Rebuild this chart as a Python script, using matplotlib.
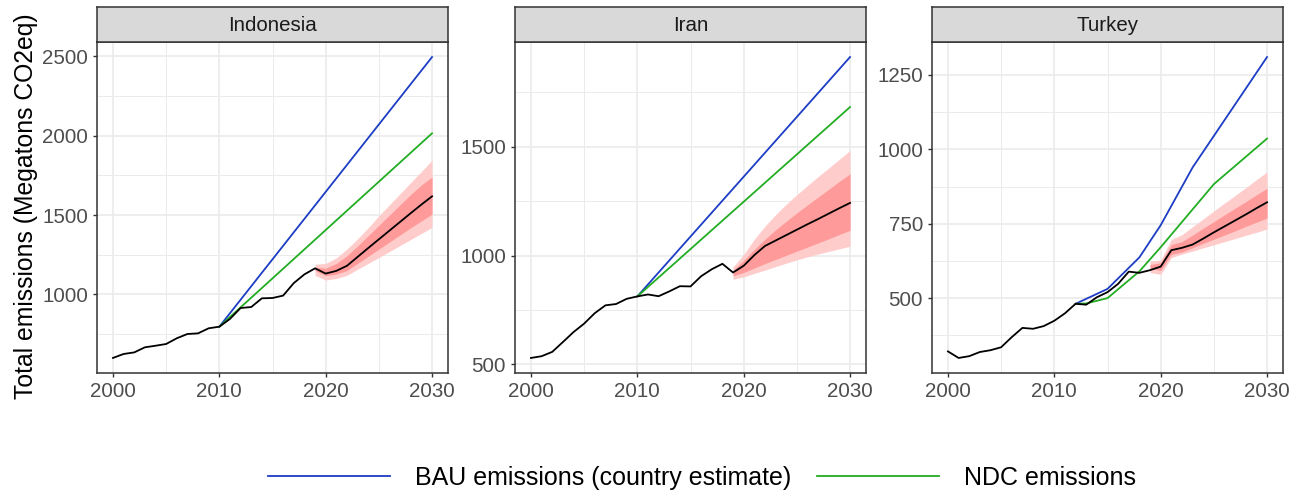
import matplotlib
matplotlib.use('Agg')
import matplotlib.pyplot as plt
from matplotlib.ticker import FixedLocator

plt.rcParams['font.family'] = ['Liberation Sans', 'DejaVu Sans']

COUNTRIES = ['Indonesia', 'Iran', 'Turkey']
HIST_YEARS = list(range(2000, 2019))
PROJ_YEARS = list(range(2019, 2031))

# historical emissions 2000-2018
hist = {
    'Indonesia': [599, 624, 634, 666, 676, 687, 723, 750, 754, 786, 796, 845, 914, 920, 975, 977, 992, 1071, 1126],
    'Iran': [529, 537, 557, 602, 648, 687, 735, 771, 777, 801, 812, 821, 813, 835, 859, 858, 905, 937, 962],
    'Turkey': [321, 299, 305, 319, 325, 335, 369, 400, 397, 406, 424, 449, 481, 478, 503, 520, 548, 589, 585],
}
# projection 2019-2030: median and two uncertainty bands
proj_mid = {
    'Indonesia': [1164, 1131, 1148, 1180, 1236, 1292, 1347, 1402, 1457, 1512, 1566, 1618],
    'Iran': [922, 953, 1002, 1044, 1069, 1094, 1119, 1144, 1168, 1193, 1218, 1242],
    'Turkey': [594, 606, 661, 669, 680, 700, 721, 741, 761, 781, 802, 822],
}
outer_hi = {
    'Indonesia': [1190, 1195, 1230, 1285, 1350, 1420, 1495, 1565, 1635, 1705, 1775, 1845],
    'Iran': [948, 1005, 1075, 1135, 1188, 1236, 1280, 1322, 1363, 1403, 1443, 1483],
    'Turkey': [624, 628, 697, 713, 740, 766, 793, 819, 845, 871, 898, 924],
}
outer_lo = {
    'Indonesia': [1120, 1090, 1100, 1120, 1158, 1195, 1232, 1270, 1308, 1346, 1384, 1422],
    'Iran': [891, 902, 918, 933, 949, 965, 980, 994, 1007, 1019, 1031, 1043],
    'Turkey': [586, 580, 636, 648, 658, 669, 679, 690, 700, 711, 721, 732],
}
inner_hi = {
    'Indonesia': [1172, 1165, 1195, 1243, 1305, 1370, 1435, 1500, 1565, 1630, 1690, 1740],
    'Iran': [933, 978, 1028, 1075, 1118, 1158, 1196, 1233, 1269, 1305, 1341, 1376],
    'Turkey': [613, 619, 680, 690, 712, 735, 757, 780, 802, 824, 847, 869],
}
inner_lo = {
    'Indonesia': [1150, 1118, 1128, 1150, 1195, 1240, 1285, 1330, 1375, 1420, 1463, 1506],
    'Iran': [907, 922, 943, 963, 982, 1001, 1020, 1039, 1058, 1077, 1097, 1116],
    'Turkey': [600, 593, 647, 655, 669, 684, 698, 712, 726, 741, 755, 769],
}
# BAU and NDC pathways
bau_years = {'Indonesia': [2010, 2030], 'Iran': [2010, 2030],
             'Turkey': [2012, 2015, 2018, 2020, 2023, 2025, 2030]}
bau = {'Indonesia': [796, 2496], 'Iran': [812, 1913],
       'Turkey': [481, 531, 637, 745, 939, 1045, 1310]}
ndc_years = {'Indonesia': [2010, 2030], 'Iran': [2010, 2030],
             'Turkey': [2012, 2013, 2015, 2018, 2020, 2025, 2030]}
ndc = {'Indonesia': [796, 2015], 'Iran': [812, 1683],
       'Turkey': [481, 482, 500, 590, 671, 883, 1036]}

major_ticks = {'Indonesia': [1000, 1500, 2000, 2500], 'Iran': [500, 1000, 1500],
               'Turkey': [500, 750, 1000, 1250]}
minor_ticks = {'Indonesia': [750, 1250, 1750, 2250], 'Iran': [750, 1250, 1750],
               'Turkey': [375, 625, 875, 1125]}

BLUE = '#1c3dc4'
GREEN = '#22ad22'
LIGHT = '#ffcccc'
DARK = '#ff9a9a'
GRID = '#ebebeb'
FRAME = '#333333'

W, H = 1299, 492
panel_left = [97, 515, 932]
panel_width = 351
panel_top = 42
panel_bottom = 373
strip_top = 7

fig = plt.figure(figsize=(W / 100, H / 100), dpi=100)


def draw_panel(i, country):
    left = panel_left[i] / W
    ax = fig.add_axes([left, 1 - panel_bottom / H, panel_width / W, (panel_bottom - panel_top) / H])
    ax.fill_between(PROJ_YEARS, outer_lo[country], outer_hi[country], color=LIGHT, lw=0, zorder=2)
    ax.fill_between(PROJ_YEARS, inner_lo[country], inner_hi[country], color=DARK, lw=0, zorder=2)
    ax.plot(bau_years[country], bau[country], color=BLUE, lw=1.3, zorder=3)
    ax.plot(ndc_years[country], ndc[country], color=GREEN, lw=1.3, zorder=3)
    ax.plot(HIST_YEARS + PROJ_YEARS, hist[country] + proj_mid[country], color='black', lw=1.3, zorder=4)

    # ggplot style 5% expansion
    vals = hist[country] + outer_hi[country] + outer_lo[country] + bau[country] + ndc[country]
    lo, hi = min(vals), max(vals)
    pad = 0.05 * (hi - lo)
    ax.set_ylim(lo - pad, hi + pad)
    ax.set_xlim(2000 - 1.5, 2030 + 1.5)

    ax.set_xticks([2000, 2010, 2020, 2030])
    ax.xaxis.set_minor_locator(FixedLocator([2005, 2015, 2025]))
    ax.set_yticks(major_ticks[country])
    ax.yaxis.set_minor_locator(FixedLocator(minor_ticks[country]))
    ax.grid(True, which='major', color=GRID, lw=1.2, zorder=0)
    ax.grid(True, which='minor', color=GRID, lw=0.7, zorder=0)
    ax.set_axisbelow(True)
    ax.tick_params(which='major', length=3, width=1, color=FRAME, labelsize=14.8,
                   labelcolor='#4d4d4d', pad=3.5)
    ax.tick_params(which='minor', length=0)
    for s in ax.spines.values():
        s.set_color(FRAME)
        s.set_linewidth(1.1)

    strip = fig.add_axes([left, 1 - panel_top / H, panel_width / W, (panel_top - strip_top) / H])
    strip.set_facecolor('#d9d9d9')
    strip.set_xticks([])
    strip.set_yticks([])
    for s in strip.spines.values():
        s.set_color(FRAME)
        s.set_linewidth(1.1)
    strip.text(0.5, 0.47, country, ha='center', va='center', fontsize=14.8, color='#1a1a1a',
               transform=strip.transAxes)
    return ax


for i, c in enumerate(COUNTRIES):
    draw_panel(i, c)

fig.text(26 / W, 1 - 206 / H, 'Total emissions (Megatons CO2eq)', rotation=90,
         ha='center', va='center', fontsize=17.8, color='black')

handles = [plt.Line2D([], [], color=BLUE, lw=1.3), plt.Line2D([], [], color=GREEN, lw=1.3)]
fig.legend(handles, ['BAU emissions (country estimate)', 'NDC emissions'],
           loc='center', bbox_to_anchor=(702 / W, 1 - 478 / H), ncol=2, frameon=False,
           fontsize=18, handlelength=4.9, handletextpad=1.0, columnspacing=1.0)

fig.savefig('out.png', dpi=100)
